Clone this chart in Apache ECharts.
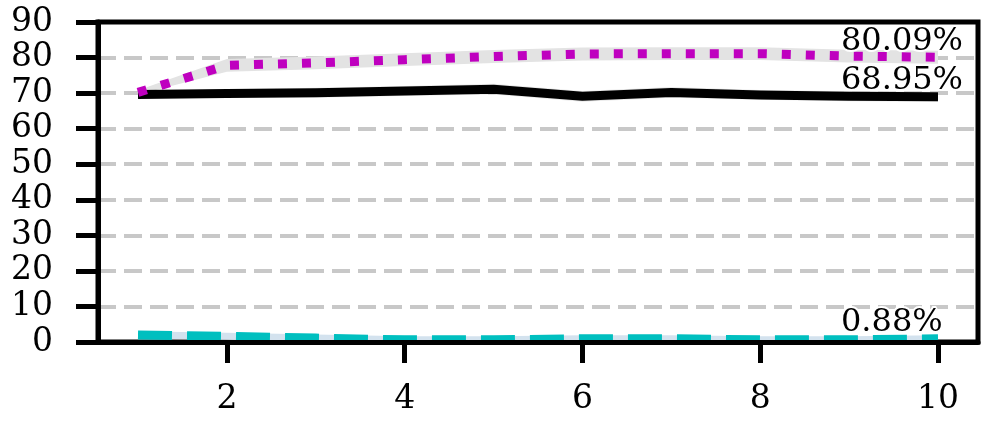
<!DOCTYPE html>
<html><head><meta charset="utf-8">
<script src="https://cdn.jsdelivr.net/npm/echarts@6/dist/echarts.min.js"></script>
<style>html,body{margin:0;padding:0;background:#fff}#c{width:996px;height:430px}</style>
</head><body><div id="c"></div>
<script>
const steps = [1, 2, 3, 4, 5, 6, 7, 8, 9, 10];
const blackVals = [69.6, 69.9, 70.1, 70.6, 71.1, 69.1, 70.2, 69.5, 69.1, 68.95];
const blackSpread = [0.8, 1.2, 1.4, 1.4, 1.5, 1.5, 1.5, 1.4, 1.4, 1.4];
const magentaVals = [70.2, 77.8, 78.5, 79.4, 80.3, 81.0, 81.1, 81.1, 80.4, 80.09];
const magentaSpread = [0.6, 1.8, 1.8, 1.8, 1.8, 1.8, 1.8, 1.8, 1.8, 1.8];
const cyanVals = [2.0, 1.6, 1.1, 0.6, 0.6, 0.9, 0.9, 0.6, 0.6, 0.88];
const cyanSpread = [1.0, 1.0, 1.0, 1.0, 1.0, 1.0, 1.0, 1.0, 1.0, 1.0];
const xTicks = [2, 4, 6, 8, 10];
const yMin = 0, yMax = 90, yStep = 10;

const FONT = 'DejaVu Serif';
const pairs = (vals) => steps.map((x, i) => [x, vals[i]]);

function band(vals, spread, color) {
  return {
    type: 'custom', silent: true, z: 1,
    data: [[steps[0], vals[0]]],
    renderItem: (params, api) => {
      const up = steps.map((x, i) => api.coord([x, vals[i] + spread[i]]));
      const lo = steps.map((x, i) => api.coord([x, vals[i] - spread[i]])).reverse();
      const cs = params.coordSys;
      return {
        type: 'group',
        clipPath: { type: 'rect', shape: { x: cs.x, y: cs.y, width: cs.width, height: cs.height } },
        children: [{ type: 'polygon', shape: { points: up.concat(lo) }, style: { fill: color } }]
      };
    }
  };
}

function endLabel() {
  return {
    show: true,
    formatter: (p) => p.value[1].toFixed(2) + '%',
    fontFamily: FONT, fontSize: 32, color: '#000',
    textBorderColor: '#fff', textBorderWidth: 4,
    align: 'left', verticalAlign: 'middle', distance: 0,
    offset: [-97, -16]
  };
}

function mainLine(vals, color, type, z) {
  return { type: 'line', symbol: 'none', data: pairs(vals), z: z,
    lineStyle: { color: color, width: 9, type: type, cap: 'butt', join: 'round' },
    endLabel: endLabel(), labelLayout: { hideOverlap: false } };
}

const chart = echarts.init(document.getElementById('c'), null, { renderer: 'canvas' });
chart.setOption({
  animation: false,
  backgroundColor: '#fff',
  grid: { left: 98, right: 18, top: 22, bottom: 88, show: true, borderColor: '#000', borderWidth: 5, backgroundColor: 'transparent' },
  xAxis: {
    type: 'value', min: 0.55, max: 10.45, z: 5,
    axisLine: { show: true, lineStyle: { color: '#000', width: 5 } },
    axisTick: { show: true, customValues: xTicks, length: 21, lineStyle: { color: '#000', width: 5 } },
    axisLabel: { customValues: xTicks, fontFamily: FONT, fontSize: 33, color: '#000', margin: 41 },
    splitLine: { show: false }
  },
  yAxis: {
    type: 'value', min: yMin, max: yMax, interval: yStep, z: 0,
    axisLine: { show: true, lineStyle: { color: '#000', width: 5 } },
    axisTick: { show: true, length: 22, lineStyle: { color: '#000', width: 5 } },
    axisLabel: { fontFamily: FONT, fontSize: 33, color: '#000', margin: 45 },
    splitLine: { show: true, showMinLine: false, showMaxLine: false, lineStyle: { color: '#c8c8c8', width: 4, type: [18, 8] } }
  },
  series: [
    band(blackVals, blackSpread, '#e9e9e9'),
    band(magentaVals, magentaSpread, '#e3e3e3'),
    band(cyanVals, cyanSpread, '#d3e2ee'),
    mainLine(blackVals, '#000000', 'solid', 3),
    mainLine(cyanVals, '#00bfbf', [34, 15], 3),
    mainLine(magentaVals, '#bf00bf', [9, 15], 4)
  ]
});
</script></body></html>
